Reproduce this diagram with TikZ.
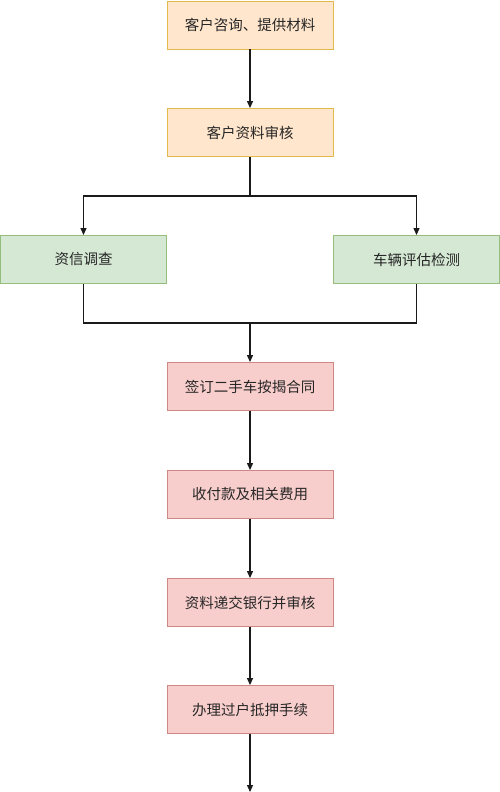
\documentclass[tikz,border=0pt]{standalone}
\usepackage{fontspec}
\setmainfont{Noto Sans CJK SC}
\usetikzlibrary{arrows.meta}
\definecolor{orfill}{HTML}{FFE6CC}
\definecolor{ordraw}{HTML}{D79B00}
\definecolor{grfill}{HTML}{D5E8D4}
\definecolor{grdraw}{HTML}{82B366}
\definecolor{rdfill}{HTML}{F8CECC}
\definecolor{rddraw}{HTML}{B85450}
\definecolor{lineclr}{HTML}{1A1A1A}
\tikzset{
  boxbase/.style={rectangle, minimum width=166pt, minimum height=48pt, inner sep=0pt,
    line width=0.9pt, font=\fontsize{14.5}{16}\selectfont, text=black!85},
  orbox/.style={boxbase, fill=orfill, draw=ordraw!70},
  grbox/.style={boxbase, fill=grfill, draw=grdraw!85},
  rdbox/.style={boxbase, fill=rdfill, draw=rddraw!70},
  conn/.style={draw=lineclr, line width=1.2pt, -{Triangle[length=7pt,width=6pt]}},
  seg/.style={draw=lineclr, line width=1.2pt}
}
\begin{document}
\begin{tikzpicture}[x=1pt,y=-1pt]
\useasboundingbox (0,0) rectangle (500,792);
\node[orbox] (a) at (250,25) {客户咨询、提供材料};
\node[orbox] (b) at (250,132.5) {客户资料审核};
\node[grbox] (c) at (83.5,259.5) {资信调查};
\node[grbox] (d) at (416.5,259.5) {车辆评估检测};
\node[rdbox] (e) at (250,386.5) {签订二手车按揭合同};
\node[rdbox] (f) at (250,494.5) {收付款及相关费用};
\node[rdbox] (g) at (250,602.5) {资料递交银行并审核};
\node[rdbox] (h) at (250,709.5) {办理过户抵押手续};
\coordinate (split) at (250,196);
\coordinate (merge) at (250,323);
\coordinate (endpt) at (250,792);
\path[conn] (a) -- (b);
\path[seg] (b) -- (split);
\path[conn] (split) -| (c);
\path[conn] (split) -| (d);
\path[seg] (c) |- (merge);
\path[seg] (d) |- (merge);
\path[conn] (merge) -- (e);
\path[conn] (e) -- (f);
\path[conn] (f) -- (g);
\path[conn] (g) -- (h);
\path[conn] (h) -- (endpt);
\end{tikzpicture}
\end{document}
